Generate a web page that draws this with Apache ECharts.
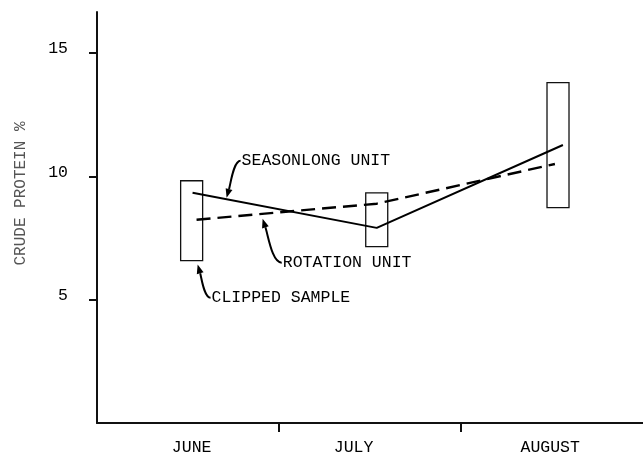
<!DOCTYPE html>
<html><head><meta charset="utf-8">
<script src="https://cdn.jsdelivr.net/npm/echarts@6/dist/echarts.min.js"></script>
<style>html,body{margin:0;padding:0;background:#fff}#c{width:643px;height:456px}</style>
</head><body><div id="c"></div>
<script>
const months = ['JUNE', 'JULY', 'AUGUST'];
const yTicks = [5, 10, 15];
// clipped sample ranges (box) per month
const boxX = [0.52, 1.537, 2.533];
const boxLow = [6.58, 7.15, 8.73];
const boxHigh = [9.82, 9.33, 13.80];
// seasonlong unit (solid)
const seasonX = [0.525, 1.537, 2.56];
const seasonY = [9.33, 7.91, 11.27];
// rotation unit (dashed)
const rotX = [0.547, 1.537, 2.516];
const rotY = [8.24, 8.89, 10.50];
// annotations
const noteText = ['SEASONLONG UNIT', 'ROTATION UNIT', 'CLIPPED SAMPLE'];
const noteX = [0.789, 1.015, 0.624];
const noteY = [10.63, 6.50, 5.08];
const tipX = [0.712, 0.910, 0.553];
const tipY = [9.13, 8.28, 6.42];

const MONO = '"Liberation Mono", "DejaVu Sans Mono", monospace';

function renderBox(params, api) {
  const x = api.value(0);
  const top = api.coord([x, api.value(2)]);
  const bot = api.coord([x, api.value(1)]);
  return {
    type: 'rect',
    shape: { x: top[0] - 11, y: top[1], width: 22, height: bot[1] - top[1] },
    style: { fill: 'none', stroke: '#111', lineWidth: 1.3 }
  };
}

function renderNote(params, api) {
  const i = params.dataIndex;
  const p = api.coord([api.value(0), api.value(1)]);
  const t = api.coord([api.value(2), api.value(3)]);
  const dx = p[0] - t[0], dy = p[1] - t[1];
  const c1 = [t[0] + dx * 0.5, p[1]];
  const c2 = [t[0] + dx * 0.3, t[1] + dy * 0.4];
  let vx = t[0] - c2[0], vy = t[1] - c2[1];
  const len = Math.sqrt(vx * vx + vy * vy) || 1;
  vx /= len; vy /= len;
  const hl = 9, hw = 3.5;
  const bx = t[0] - vx * hl, by = t[1] - vy * hl;
  const nx = -vy, ny = vx;
  return {
    type: 'group',
    children: [
      {
        type: 'bezierCurve',
        shape: { x1: p[0], y1: p[1], x2: bx, y2: by, cpx1: c1[0], cpy1: c1[1], cpx2: c2[0], cpy2: c2[1] },
        style: { fill: 'none', stroke: '#000', lineWidth: 2 }
      },
      {
        type: 'polygon',
        shape: { points: [[t[0], t[1]], [bx + nx * hw, by + ny * hw], [bx - nx * hw, by - ny * hw]] },
        style: { fill: '#000' }
      },
      {
        type: 'text',
        style: {
          x: p[0] + 1, y: p[1], text: noteText[i], fill: '#000',
          fontSize: 16.5, fontFamily: MONO, align: 'left', verticalAlign: 'middle'
        }
      }
    ]
  };
}

const chart = echarts.init(document.getElementById('c'));
chart.setOption({
  animation: false,
  backgroundColor: '#fff',
  grid: { left: 97, right: 0, top: 12, bottom: 33, containLabel: false, outerBoundsMode: 'none' },
  xAxis: {
    type: 'value', min: 0, max: 3,
    axisLine: { show: true, onZero: false, lineStyle: { color: '#111', width: 2 } },
    splitLine: { show: false },
    axisTick: { show: true, customValues: [1, 2], length: 9, lineStyle: { color: '#111', width: 2 } },
    axisLabel: {
      customValues: [0.52, 1.41, 2.49],
      formatter: v => months[Math.min(2, Math.floor(v))],
      margin: 16, color: '#000', fontSize: 16.5, fontFamily: MONO
    }
  },
  yAxis: {
    type: 'value', min: 0, max: 16.66,
    axisLine: { show: true, onZero: false, lineStyle: { color: '#111', width: 2 } },
    splitLine: { show: false },
    axisTick: { show: true, customValues: yTicks, length: 8, lineStyle: { color: '#111', width: 2 } },
    axisLabel: {
      customValues: yTicks, margin: 29, color: '#000', fontSize: 16.5, fontFamily: MONO,
      verticalAlign: 'bottom', lineHeight: 8
    },
    name: 'CRUDE PROTEIN %', nameLocation: 'middle', nameRotate: 90, nameGap: 68,
    nameTextStyle: { fontSize: 16, fontFamily: MONO, color: '#555', padding: [0, 0, 0, 48] }
  },
  series: [
    {
      type: 'custom', name: 'Clipped sample', renderItem: renderBox, z: 2,
      encode: { x: 0, y: [1, 2] },
      data: boxX.map((x, i) => [x, boxLow[i], boxHigh[i]])
    },
    {
      type: 'line', name: 'Seasonlong unit', symbol: 'none', z: 3,
      lineStyle: { color: '#000', width: 2 },
      data: seasonX.map((x, i) => [x, seasonY[i]])
    },
    {
      type: 'line', name: 'Rotation unit', symbol: 'none', z: 3,
      lineStyle: { color: '#000', width: 2.4, type: [14, 7] },
      data: rotX.map((x, i) => [x, rotY[i]])
    },
    {
      type: 'custom', name: 'Notes', renderItem: renderNote, z: 4, clip: false,
      encode: { x: [0, 2], y: [1, 3] },
      data: noteX.map((x, i) => [x, noteY[i], tipX[i], tipY[i]])
    }
  ]
});
</script>
</body></html>
